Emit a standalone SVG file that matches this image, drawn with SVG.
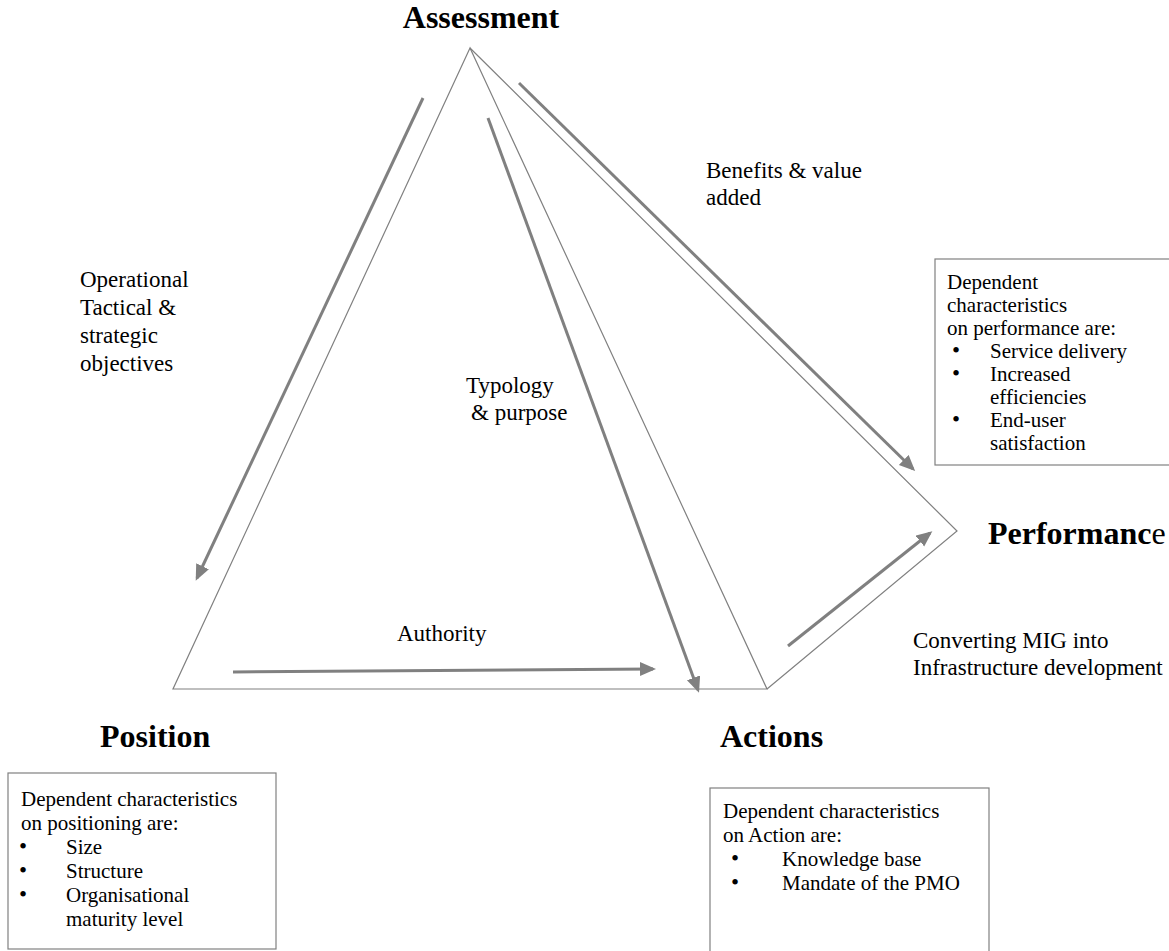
<svg xmlns="http://www.w3.org/2000/svg" width="1169" height="951" viewBox="0 0 1169 951" font-family="'Liberation Serif', 'DejaVu Serif', 'Times New Roman', serif">
  <style>
    text { font-family: 'Liberation Serif', 'DejaVu Serif', 'Times New Roman', serif; fill: #000; }
    .title { font-size: 32px; font-weight: bold; }
    .label { font-size: 23px; }
    .box-text { font-size: 21px; }
    .bullet { font-size: 23px; }
    .edge { stroke: #808080; stroke-width: 1.2; fill: none; }
    .flow { stroke: #808080; stroke-width: 3; fill: none; marker-end: url(#head); }
    .box { fill: #fff; stroke: #808080; stroke-width: 1.2; }
  </style>
  <defs>
    <marker id="head" markerUnits="userSpaceOnUse" markerWidth="17" markerHeight="15" refX="13" refY="7" orient="auto">
      <path d="M0,0 L16,7 L0,14 Z" fill="#808080"/>
    </marker>
  </defs>

  <rect width="1169" height="951" fill="#fff"/>

  <!-- pyramid outline -->
  <g id="pyramid">
    <path class="edge" d="M470,48 L173,689 L767,689 Z"/>
    <path class="edge" d="M470,48 L957,531 L767,689"/>
  </g>

  <!-- flow arrows between the corners -->
  <g id="connectors">
    <line class="flow" x1="423" y1="98" x2="197" y2="578"/>
    <line class="flow" x1="488" y1="118" x2="698" y2="690"/>
    <line class="flow" x1="519" y1="83" x2="913" y2="469"/>
    <line class="flow" x1="233" y1="672" x2="653" y2="669"/>
    <line class="flow" x1="788" y1="646" x2="930" y2="533"/>
  </g>

  <!-- arrow labels -->
  <g id="labels">
    <text class="label" x="80" y="287">Operational</text>
    <text class="label" x="80" y="315">Tactical &amp;</text>
    <text class="label" x="80" y="343">strategic</text>
    <text class="label" x="80" y="371">objectives</text>
    <text class="label" x="706" y="178">Benefits &amp; value</text>
    <text class="label" x="706" y="205">added</text>
    <text class="label" x="466" y="393">Typology</text>
    <text class="label" x="471" y="420">&amp; purpose</text>
    <text class="label" x="397" y="641">Authority</text>
    <text class="label" x="913" y="648">Converting MIG into</text>
    <text class="label" x="913" y="675">Infrastructure development</text>
  </g>

  <g id="assessment">
    <text class="title" x="481" y="28" text-anchor="middle">Assessment</text>
  </g>

  <g id="performance">
    <text class="title" x="988" y="544">Performanc<tspan font-weight="normal">e</tspan></text>
    <rect class="box" x="935" y="259" width="240" height="206"/>
    <text class="box-text" x="947" y="289">Dependent</text>
    <text class="box-text" x="947" y="312">characteristics</text>
    <text class="box-text" x="947" y="335">on performance are:</text>
    <text class="bullet" x="952" y="358">•</text>
    <text class="box-text" x="990" y="358">Service delivery</text>
    <text class="bullet" x="952" y="381">•</text>
    <text class="box-text" x="990" y="381">Increased</text>
    <text class="box-text" x="990" y="404">efficiencies</text>
    <text class="bullet" x="952" y="427">•</text>
    <text class="box-text" x="990" y="427">End-user</text>
    <text class="box-text" x="990" y="450">satisfaction</text>
  </g>

  <g id="position">
    <text class="title" x="100" y="747">Position</text>
    <rect class="box" x="8" y="773" width="268" height="176"/>
    <text class="box-text" x="21" y="806">Dependent characteristics</text>
    <text class="box-text" x="21" y="830">on positioning are:</text>
    <text class="bullet" x="19" y="854">•</text>
    <text class="box-text" x="66" y="854">Size</text>
    <text class="bullet" x="19" y="878">•</text>
    <text class="box-text" x="66" y="878">Structure</text>
    <text class="bullet" x="19" y="902">•</text>
    <text class="box-text" x="66" y="902">Organisational</text>
    <text class="box-text" x="66" y="926">maturity level</text>
  </g>

  <g id="actions">
    <text class="title" x="720" y="747">Actions</text>
    <rect class="box" x="710" y="788" width="279" height="170"/>
    <text class="box-text" x="723" y="818">Dependent characteristics</text>
    <text class="box-text" x="723" y="842">on Action are:</text>
    <text class="bullet" x="731" y="866">•</text>
    <text class="box-text" x="782" y="866">Knowledge base</text>
    <text class="bullet" x="731" y="890">•</text>
    <text class="box-text" x="782" y="890">Mandate of the PMO</text>
  </g>
</svg>
